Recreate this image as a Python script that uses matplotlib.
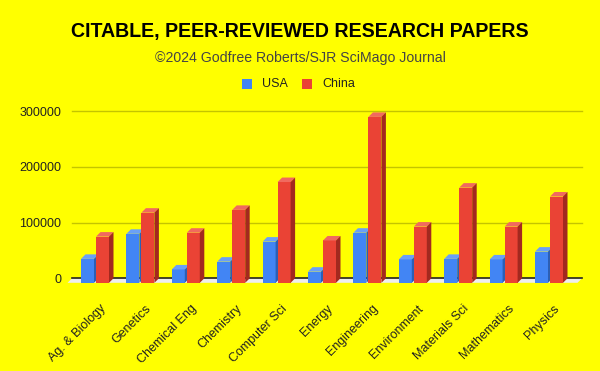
import matplotlib
matplotlib.use("Agg")
import matplotlib.pyplot as plt
from matplotlib.patches import Polygon
import numpy as np

categories = ["Ag. & Biology", "Genetics", "Chemical Eng", "Chemistry", "Computer Sci",
              "Energy", "Engineering", "Environment", "Materials Sci", "Mathematics", "Physics"]
usa = [43000, 88000, 24000, 38000, 74000, 20000, 90000, 42000, 43000, 42000, 56000]
china = [83000, 126000, 90000, 131000, 181000, 76000, 298000, 101000, 171000, 101000, 155000]
yticks = [0, 100000, 200000, 300000]

W, H = 600, 371
fig = plt.figure(figsize=(6, 3.71), dpi=100, facecolor="#FFFF00")

# axes placement in pixels
axL, axR, axT, axB = 64, 588, 100, 290
ax = fig.add_axes([axL / W, 1 - axB / H, (axR - axL) / W, (axB - axT) / H])
ax.set_facecolor("#FFFF00")
for s in ax.spines.values():
    s.set_visible(False)

pxx = 45.4          # px per category
c0 = 95             # px of first category center
zero_px = 278.3
pxy = 55.67 / 100000.0
ax.set_xlim((axL - c0) / pxx, (axR - c0) / pxx)
ax.set_ylim(-(axB - zero_px) / pxy, (zero_px - axT) / pxy)

dx = 4.5 / pxx
dy = 4.5 / pxy
gl, gr = (72 - c0) / pxx, (582 - c0) / pxx

# floor
ax.add_patch(Polygon([(gl, 0), (gr, 0), (gr - dx, -dy), (gl - dx, -dy)],
                     closed=True, facecolor="#eeeeee", edgecolor="none", zorder=1,
                     clip_on=False))
for t in yticks[1:]:
    ax.plot([gl, gr], [t, t], color="#c4c400", lw=1, zorder=0.5)
ax.plot([gl, gr], [0, 0], color="#222222", lw=1.2, zorder=1.5)

bw = 13 / pxx
off = 1 / pxx
x = np.arange(len(categories))


def bar3d(lefts, vals, front, top, side):
    ax.bar(lefts, vals, width=bw, bottom=-dy, align="edge", color=front, zorder=3)
    for l, v in zip(lefts, vals):
        ax.add_patch(Polygon([(l, v - dy), (l + bw, v - dy), (l + bw + dx, v), (l + dx, v)],
                             closed=True, facecolor=top, edgecolor="none", zorder=3))
        ax.add_patch(Polygon([(l + bw, -dy), (l + bw + dx, 0), (l + bw + dx, v), (l + bw, v - dy)],
                             closed=True, facecolor=side, edgecolor="none", zorder=3))


bar3d(x - off - bw, usa, "#4285F4", "#6aa0f7", "#2c5fb5")
bar3d(x + off, china, "#EA4335", "#f06a5f", "#a3291f")

ax.set_yticks(yticks)
ax.set_yticklabels([str(t) for t in yticks], fontsize=9, color="#222222",
                   family="Liberation Sans")
ax.tick_params(axis="y", length=0, pad=2)
ax.set_xticks(x + 0.1)
ax.set_xticklabels(categories, rotation=45, ha="right", rotation_mode="anchor",
                   fontsize=9, color="#222222", family="Liberation Sans")
ax.tick_params(axis="x", length=0, pad=9)

fig.text(0.5, 1 - 32 / H, "CITABLE, PEER-REVIEWED RESEARCH PAPERS", ha="center", va="center",
         fontsize=14.1, fontweight="bold", family="Liberation Sans", color="#000000")
fig.text(0.5, 1 - 58 / H, "\u00a92024 Godfree Roberts/SJR SciMago Journal", ha="center", va="center",
         fontsize=10.2, family="Liberation Sans", color="#444444")

# legend
ly = 1 - 84 / H
for xp, col, lab in [(242, "#4285F4", "USA"), (302, "#EA4335", "China")]:
    fig.patches.append(matplotlib.patches.Rectangle((xp / W, ly - 5 / H), 10 / W, 10 / H,
                                                    transform=fig.transFigure, facecolor=col,
                                                    edgecolor="none"))
    fig.text((xp + 20) / W, ly, lab, ha="left", va="center", fontsize=9,
             family="Liberation Sans", color="#222222")

fig.savefig("out.png", dpi=100, facecolor="#FFFF00")
